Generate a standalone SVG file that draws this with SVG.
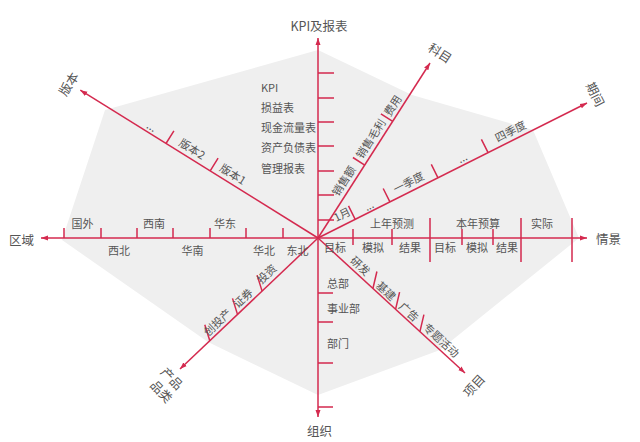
<svg xmlns="http://www.w3.org/2000/svg" width="640" height="442" viewBox="0 0 640 442">
<defs>
<style>
.ax{stroke:#d42a4f;stroke-width:1.5;fill:none}
.tk{stroke:#d42a4f;stroke-width:1.5;fill:none}
text{font-family:"Noto Sans CJK SC","Noto Sans",sans-serif;fill:#555;dominant-baseline:central}
.l{font-size:11px;text-anchor:middle}
.s{font-size:11px;text-anchor:start}
.t{font-size:12.5px;text-anchor:middle}
</style>
<marker id="ah" markerUnits="userSpaceOnUse" markerWidth="8" markerHeight="6" refX="7" refY="3" orient="auto">
<path d="M0,0.5 L7,3 L0,5.5 z" fill="#d42a4f"/>
</marker>
</defs>
<rect width="640" height="442" fill="#fff"/>
<polygon id="area" points="318,50 412,95 533,130 579,238 440,350 318,395 208,342 62,240 105,110" fill="#efefef"/>
<g id="connectors">
<path class="ax" d="M318,238 L318,38" marker-end="url(#ah)"/>
<path class="ax" d="M318,238 L318,417" marker-end="url(#ah)"/>
<path class="ax" d="M318,238 L41,238" marker-end="url(#ah)"/>
<path class="ax" d="M318,238 L587,238" marker-end="url(#ah)"/>
<path class="ax" d="M318,238 L80.3,90.2" marker-end="url(#ah)"/>
<path class="ax" d="M318,238 L430,63" marker-end="url(#ah)"/>
<path class="ax" d="M318,238 L587,103" marker-end="url(#ah)"/>
<path class="ax" d="M318,238 L465,373" marker-end="url(#ah)"/>
<path class="ax" d="M318,238 L180,369" marker-end="url(#ah)"/>
<path class="tk" d="M318,73h16M318,98h16M318,122h16M318,146h16M318,171h16M318,195h16M318,220h16"/>
<path class="tk" d="M318,293h15M318,322h15M318,363h15M318,407h15"/>
<path class="tk" d="M64,238v-10M101,238v-10M137,238v-10M173,238v-10M210,238v-10M246,238v-10M283,238v-10"/>
<path class="tk" d="M353,229V245M392,229V245M462,229V245M493,229V245"/>
<path class="tk" d="M430,218V262M521,218V262M572,218V262"/>
<path class="tk" d="M210.2,170.9L218.1,158.2M166,143.5L173.9,130.8"/>
<path class="tk" d="M364.7,165.1L352.9,157.5M392.7,121.4L380.9,113.9"/>
<path class="tk" d="M355.2,219.3L348.5,205.9M389.9,201.9L383.2,188.5M438,177.8L431.3,164.4M488.1,152.7L481.4,139.3"/>
<path class="tk" d="M372.9,288.5l4,-17M395.6,309.2l4,-17M419.9,331.6l4,-17"/>
<path class="tk" d="M262.1,291.1l-5,-16M237.5,314.4l-5,-16M209.8,340.7l-5,-16"/>
</g>
<g id="kpi">
<text class="t" x="319" y="25">KPI及报表</text>
<text class="s" x="261" y="87">KPI</text>
<text class="s" x="261" y="107">损益表</text>
<text class="s" x="261" y="127">现金流量表</text>
<text class="s" x="261" y="147">资产负债表</text>
<text class="s" x="261" y="168">管理报表</text>
</g>
<g id="org">
<text class="t" x="319.5" y="430">组织</text>
<text class="s" x="327" y="283">总部</text>
<text class="s" x="327" y="308">事业部</text>
<text class="s" x="327" y="343">部门</text>
</g>
<g id="region">
<text class="t" x="21.5" y="239">区域</text>
<text class="l" x="82.5" y="223">国外</text>
<text class="l" x="154" y="223">西南</text>
<text class="l" x="225" y="223">华东</text>
<text class="l" x="119" y="250">西北</text>
<text class="l" x="192.5" y="250">华南</text>
<text class="l" x="264" y="250">华北</text>
<text class="l" x="297.5" y="250">东北</text>
</g>
<g id="scenario">
<text class="t" x="608.5" y="238">情景</text>
<text class="l" x="335" y="247">目标</text>
<text class="l" x="373" y="247">模拟</text>
<text class="l" x="410" y="247">结果</text>
<text class="l" x="445" y="247">目标</text>
<text class="l" x="477" y="247">模拟</text>
<text class="l" x="507" y="247">结果</text>
<text class="l" x="392" y="223">上年预测</text>
<text class="l" x="478" y="223">本年预算</text>
<text class="l" x="542" y="223">实际</text>
</g>
<g id="version">
<text class="t" transform="translate(68,83.5) rotate(-58)">版本</text>
<text class="l" transform="translate(233.3,173.5) rotate(31.9)">版本1</text>
<text class="l" transform="translate(192.6,148.2) rotate(31.9)">版本2</text>
<text class="l" transform="translate(152.4,125.6) rotate(31.9)">...</text>
</g>
<g id="account">
<text class="t" transform="translate(440.5,52.5) rotate(33)">科目</text>
<text class="l" transform="translate(343,180.4) rotate(-57.4)">销售额</text>
<text class="l" transform="translate(370,138.3) rotate(-57.4)">销售毛利</text>
<text class="l" transform="translate(392,105) rotate(-57.4)">费用</text>
</g>
<g id="period">
<text class="t" transform="translate(596,94) rotate(63.4)">期间</text>
<text class="l" transform="translate(341.7,213.8) rotate(-26.6)">1月</text>
<text class="l" transform="translate(368.5,204.8) rotate(-26.6)">...</text>
<text class="l" transform="translate(408.2,181.6) rotate(-26.6)">一季度</text>
<text class="l" transform="translate(461.9,156.9) rotate(-26.6)">...</text>
<text class="l" transform="translate(510.1,130.4) rotate(-26.6)">四季度</text>
</g>
<g id="project">
<text class="t" transform="translate(473.5,385) rotate(-47.4)">项目</text>
<text class="l" transform="translate(360.9,265.2) rotate(42.6)">研发</text>
<text class="l" transform="translate(386.7,290.3) rotate(42.6)">基建</text>
<text class="l" transform="translate(409.6,311.2) rotate(42.6)">广告</text>
<text class="l" transform="translate(441.9,339.6) rotate(42.6)">专题活动</text>
</g>
<g id="product">
<text class="t" transform="translate(172.5,378) rotate(46)">产品</text>
<text class="t" transform="translate(162,391) rotate(46)">品类</text>
<text class="l" transform="translate(266.1,273.4) rotate(-43.5)">投资</text>
<text class="l" transform="translate(242.2,297.6) rotate(-43.5)">证券</text>
<text class="l" transform="translate(216.8,321.7) rotate(-43.5)">创投产</text>
</g>
</svg>
